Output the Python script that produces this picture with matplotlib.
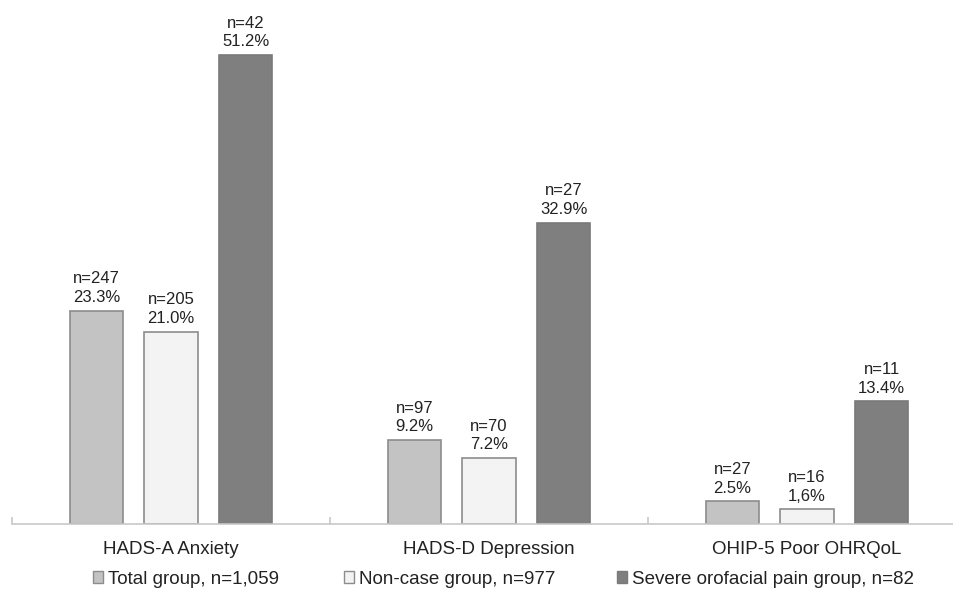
import matplotlib
matplotlib.use("Agg")
import matplotlib.pyplot as plt
from matplotlib.patches import Patch
import numpy as np

plt.rcParams['font.family'] = ['Liberation Sans', 'DejaVu Sans']

# -------------------------
# Data
# -------------------------
categories = ["HADS-A Anxiety", "HADS-D Depression", "OHIP-5 Poor OHRQoL"]
groups = ["Total group, n=1,059", "Non-case group, n=977",
          "Severe orofacial pain group, n=82"]

total_pct = [23.3, 9.2, 2.5]
noncase_pct = [21.0, 7.2, 1.6]
severe_pct = [51.2, 32.9, 13.4]

total_n = [247, 97, 27]
noncase_n = [205, 70, 16]
severe_n = [42, 27, 11]

# percent text as printed in the source (note the "1,6%")
total_txt = ["23.3%", "9.2%", "2.5%"]
noncase_txt = ["21.0%", "7.2%", "1,6%"]
severe_txt = ["51.2%", "32.9%", "13.4%"]

fills = ["#c3c3c3", "#f3f3f3", "#7f7f7f"]
edges = ["#8c8c8c", "#8c8c8c", "#7a7a7a"]

# -------------------------
# Plot
# -------------------------
fig = plt.figure(figsize=(9.54, 5.92), dpi=100)
ax = fig.add_axes([12 / 954, 1 - 524 / 592, 954 / 954, 513 / 592])

x = np.arange(len(categories))
w = 0.168
step = 0.235

series = [(total_pct, total_n, total_txt),
          (noncase_pct, noncase_n, noncase_txt),
          (severe_pct, severe_n, severe_txt)]

for i, (pct, ns, txt) in enumerate(series):
    pos = x + (i - 1) * step
    bars = ax.bar(pos, pct, width=w, color=fills[i], edgecolor=edges[i],
                  linewidth=1.2, zorder=2)
    for b, n, t in zip(bars, ns, txt):
        ax.annotate(f"n={n}\n{t}", (b.get_x() + b.get_width() / 2, b.get_height()),
                    xytext=(0, 4), textcoords="offset points",
                    ha="center", va="bottom", fontsize=12, color="#222222",
                    linespacing=1.3)

ax.set_xlim(-0.5, len(categories) - 0.5)
ax.set_ylim(0, 56)

for s in ["top", "right", "left"]:
    ax.spines[s].set_visible(False)
ax.spines["bottom"].set_color("#c8c8c8")
ax.spines["bottom"].set_linewidth(1.2)
ax.set_yticks([])

ax.set_xticks(x)
ax.set_xticklabels(categories, fontsize=13.5, color="#222222")
ax.tick_params(axis="x", which="major", length=0, pad=12)
ax.set_xticks(np.arange(len(categories) + 1) - 0.5, minor=True)
ax.tick_params(axis="x", which="minor", direction="in", length=5,
               color="#c8c8c8", width=1.2)

# legend entries sit at uneven spots in the original, so place each one
legend_x = [93, 344, 617]
for i in range(3):
    h = Patch(facecolor=fills[i], edgecolor=edges[i], linewidth=1)
    fig.legend([h], [groups[i]], loc="center left",
               bbox_to_anchor=(legend_x[i] / 954, 1 - 579 / 592),
               frameon=False, fontsize=13.5, handlelength=0.55,
               handleheight=0.55, handletextpad=0.25,
               labelcolor="#222222", borderpad=0, borderaxespad=0)

fig.savefig("out.png", dpi=100)
